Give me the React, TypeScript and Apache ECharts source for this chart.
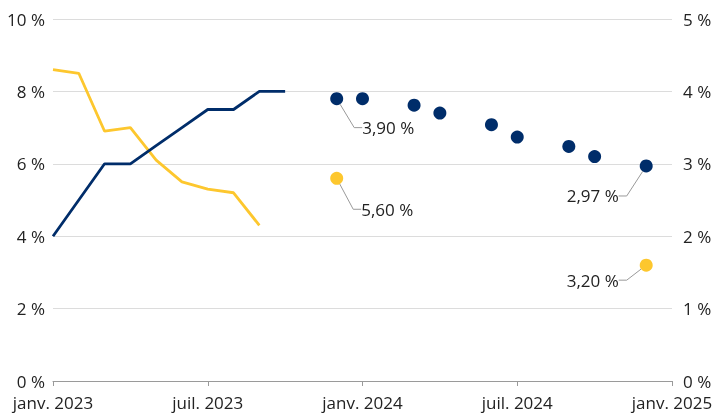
import React, { useEffect, useRef } from "react";
import * as echarts from "echarts";

// Months from janv. 2023 to janv. 2025
const monthNames = ["janv.", "févr.", "mars", "avr.", "mai", "juin", "juil.", "août", "sept.", "oct.", "nov.", "déc."];
const months: string[] = [];
for (let y = 2023; y <= 2025; y++) {
  for (let m = 0; m < 12; m++) {
    if (y === 2025 && m > 0) break;
    months.push(`${monthNames[m]} ${y}`);
  }
}

// Inflation (left axis), Jan–Sep 2023
const inflation = [8.6, 8.5, 6.9, 7.0, 6.1, 5.5, 5.3, 5.2, 4.3];
// Policy rate (right axis), Jan–Oct 2023
const policyRate = [2.0, 2.5, 3.0, 3.0, 3.25, 3.5, 3.75, 3.75, 4.0, 4.0];

// Rate forecasts (right axis)
const rateForecastMonths = ["déc. 2023", "janv. 2024", "mars 2024", "avr. 2024", "juin 2024", "juil. 2024", "sept. 2024", "oct. 2024", "déc. 2024"];
const rateForecastValues = [3.9, 3.9, 3.81, 3.7, 3.54, 3.37, 3.24, 3.1, 2.97];
const rateLabelled = [0, 8];

// Inflation forecasts (left axis)
const inflForecastMonths = ["déc. 2023", "déc. 2024"];
const inflForecastValues = [5.6, 3.2];

const leftTicks = { min: 0, max: 10, interval: 2 };
const rightTicks = { min: 0, max: 5, interval: 1 };

const NAVY = "#002d6a";
const YELLOW = "#fdc72e";
const FONT = "Open Sans";
const FS = 17;

const fr = (v: number) => v.toFixed(2).replace(".", ",") + " %";

export default function App() {
  const ref = useRef<HTMLDivElement>(null);
  useEffect(() => {
    if (!ref.current) return;
    const chart = echarts.init(ref.current, undefined, { renderer: "svg" });
    const pad = (arr: number[]) => months.map((_, i) => (i < arr.length ? arr[i] : null));
    const labelStyle = {
      fontFamily: FONT,
      fontSize: FS,
      color: "#222",
    };
    const labelLine = { show: true, length2: 8, lineStyle: { color: "#999", width: 1 } };

    chart.setOption({
      animation: false,
      grid: { left: 53, right: 46, top: 19, bottom: 36, containLabel: false },
      xAxis: {
        type: "category",
        data: months,
        boundaryGap: false,
        axisLine: { lineStyle: { color: "#9a9a9a", width: 1 } },
        axisTick: { interval: 5, length: 5, lineStyle: { color: "#9a9a9a" } },
        axisLabel: {
          interval: 5,
          fontFamily: FONT,
          fontSize: FS,
          lineHeight: 17,
          color: "#222",
          margin: 13,
          formatter: (v: string) => v,
        },
        splitLine: { show: false },
      },
      yAxis: [
        {
          type: "value",
          ...leftTicks,
          axisLine: { show: false },
          axisTick: { show: false },
          axisLabel: {
            fontFamily: FONT,
            fontSize: FS,
            lineHeight: 17,
            color: "#222",
            margin: 8,
            formatter: (v: number) => `${v} %`,
          },
          splitLine: { lineStyle: { color: "#dcdcdc", width: 1 } },
        },
        {
          type: "value",
          ...rightTicks,
          axisLine: { show: false },
          axisTick: { show: false },
          axisLabel: {
            fontFamily: FONT,
            fontSize: FS,
            lineHeight: 17,
            color: "#222",
            margin: 11,
            formatter: (v: number) => `${v} %`,
          },
          splitLine: { show: false },
        },
      ],
      series: [
        {
          type: "line",
          yAxisIndex: 0,
          data: pad(inflation),
          showSymbol: false,
          symbol: "none",
          lineStyle: { color: YELLOW, width: 2.8 },
          itemStyle: { color: YELLOW },
          z: 2,
        },
        {
          type: "line",
          yAxisIndex: 1,
          data: pad(policyRate),
          showSymbol: false,
          symbol: "none",
          lineStyle: { color: NAVY, width: 2.8 },
          itemStyle: { color: NAVY },
          z: 3,
        },
        {
          type: "scatter",
          yAxisIndex: 1,
          symbolSize: 13,
          itemStyle: { color: NAVY, opacity: 1 },
          data: rateForecastMonths.map((m, i) => ({
            value: [m, rateForecastValues[i]],
            label: rateLabelled.includes(i)
              ? { show: true, position: i === 0 ? "right" : "left", formatter: () => fr(rateForecastValues[i]), ...labelStyle }
              : { show: false },
            labelLine,
          })),
          labelLayout: (p: any) => (p.dataIndex === 0 ? { dx: 14, dy: 29 } : { dx: -16, dy: 30 }),
          labelLine,
          z: 4,
        },
        {
          type: "scatter",
          yAxisIndex: 0,
          symbolSize: 13,
          itemStyle: { color: YELLOW, opacity: 1 },
          data: inflForecastMonths.map((m, i) => ({
            value: [m, inflForecastValues[i]],
            label: { show: true, position: i === 0 ? "right" : "left", formatter: () => fr(inflForecastValues[i]), ...labelStyle },
            labelLine,
          })),
          labelLayout: (p: any) => (p.dataIndex === 0 ? { dx: 13, dy: 31 } : { dx: -16, dy: 15 }),
          labelLine,
          z: 4,
        },
      ],
    });
    return () => chart.dispose();
  }, []);
  return <div ref={ref} style={{ position: "fixed", left: 0, top: 0, width: 718, height: 417 }} />;
}
